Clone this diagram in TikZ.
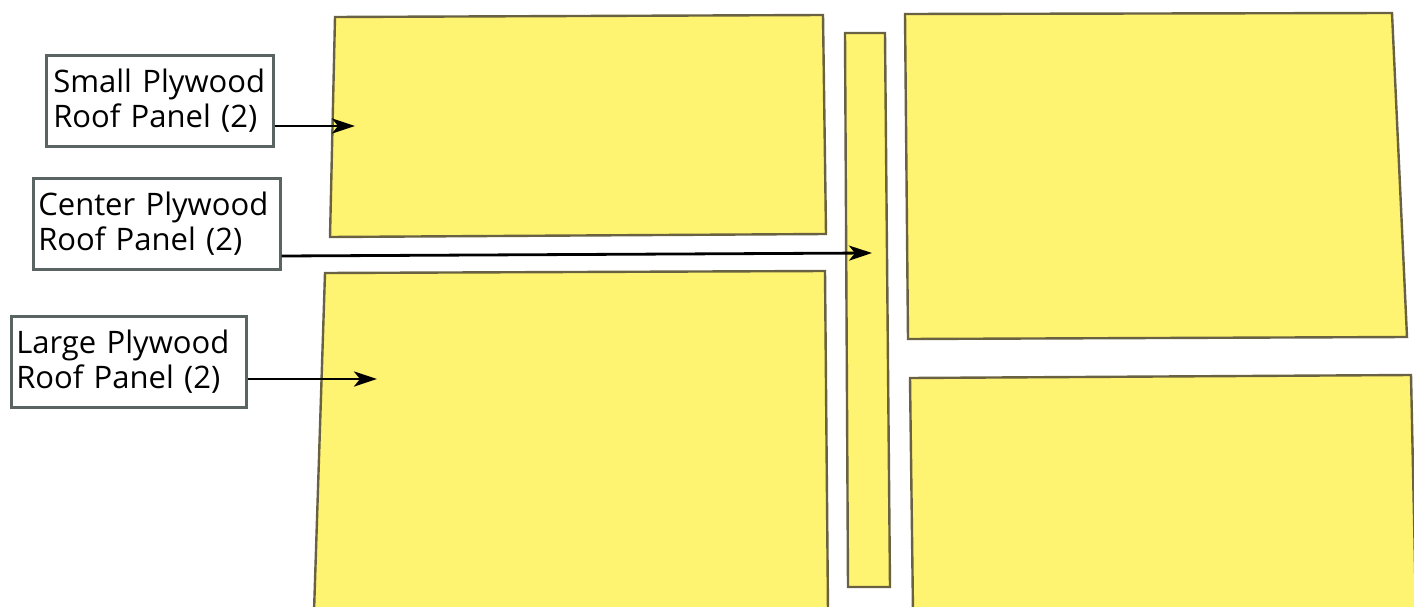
\documentclass[tikz,border=0pt]{standalone}
\usepackage{fontspec}
\setmainfont{Open Sans}
\usetikzlibrary{arrows.meta}
\definecolor{panelfill}{RGB}{255,243,114}
\definecolor{paneledge}{RGB}{105,98,66}
\definecolor{boxedge}{RGB}{90,100,98}
\tikzset{
  panel/.style={fill=panelfill, draw=paneledge, line width=2.4pt, line join=miter},
  labelbox/.style={draw=boxedge, line width=2.6pt, fill=white, align=left, anchor=north west,
    minimum height=91pt, inner ysep=0pt,
    font=\fontsize{31pt}{35pt}\selectfont},
  pointer/.style={line width=2.8pt, -{Stealth[length=23pt,width=15pt,inset=6pt]}}
}
\begin{document}
\begin{tikzpicture}[x=1pt,y=-1pt]
\useasboundingbox[fill=white] (0,0) rectangle (1414,607);
% panels
\draw[panel] (335,17) -- (823,15) -- (826,234) -- (330,237) -- cycle;
\draw[panel] (325,273) -- (825,271) -- (828,612) -- (314,612) -- cycle;
\draw[panel] (845,33) -- (885,33) -- (890,587) -- (848,587) -- cycle;
\draw[panel] (905,14) -- (1392,13) -- (1407,337) -- (908,339) -- cycle;
\draw[panel] (910,378) -- (1411,375) -- (1416,612) -- (913,612) -- cycle;
% labels
\node[labelbox, text width=213pt, inner xsep=7pt] (small) at (45,54) {Small Plywood\\Roof Panel (2)};
\node[labelbox, text width=237pt, inner xsep=5pt] (center) at (32,177) {Center Plywood\\Roof Panel (2)};
\node[labelbox, text width=225pt, inner xsep=5pt] (large) at (10,315) {Large Plywood\\Roof Panel (2)};
% pointer targets
\coordinate (tsmall) at (355,126);
\coordinate (tcenter) at (872,253);
\coordinate (tlarge) at (377,379);
\coordinate (scenter) at (279,256);
\draw[pointer] (small.east |- tsmall) -- (tsmall);
\draw[pointer] (center.east |- scenter) -- (tcenter);
\draw[pointer] (large.east |- tlarge) -- (tlarge);
\end{tikzpicture}
\end{document}
